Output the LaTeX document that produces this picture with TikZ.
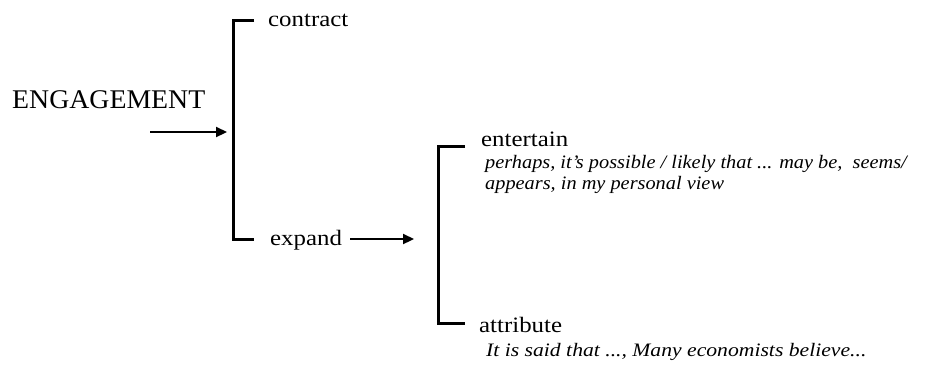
\documentclass[tikz,border=0pt]{standalone}
\usepackage{fontspec}
\setmainfont{Liberation Serif}
\usetikzlibrary{arrows.meta}
\newcommand{\hs}[2]{\scalebox{#1}[1]{#2}}
\begin{document}
\begin{tikzpicture}[x=1pt,y=-1pt,
  lbl/.style={anchor=base west,inner sep=0pt,font=\fontsize{22}{25}\selectfont},
  ex/.style={anchor=base west,inner sep=0pt,font=\fontsize{19}{22}\selectfont\itshape},
  brk/.style={line width=3pt},
  arr/.style={line width=2.2pt,-{Triangle[length=11pt,width=10pt]}}]
\useasboundingbox (0,0) rectangle (949,365);
\node[anchor=base west,inner sep=0pt,font=\fontsize{27}{30}\selectfont] (eng) at (12,108) {\hs{1.03}{ENGAGEMENT}};
\coordinate (a1s) at (150,132);
\coordinate (a1e) at (227,132);
\draw[arr] (a1s) -- (a1e);
\coordinate (b1t) at (254,20);
\coordinate (b1b) at (254,239);
\draw[brk] (b1t) -- (233,20) -- (233,239) -- (b1b);
\node[lbl] (contract) at (268,26) {\hs{1.13}{contract}};
\node[lbl] (expand) at (270,245) {\hs{1.13}{expand}};
\coordinate (a2s) at (350,239);
\coordinate (a2e) at (414,239);
\draw[arr] (a2s) -- (a2e);
\coordinate (b2t) at (465,146);
\coordinate (b2b) at (465,323);
\draw[brk] (b2t) -- (438,146) -- (438,323) -- (b2b);
\node[lbl] (entertain) at (481,146) {\hs{1.13}{entertain}};
\node[ex] (ent1) at (485,168) {\hs{1.07}{perhaps, it’s possible / likely that ... may be,\ \ seems/}};
\node[ex] (ent2) at (485,189) {\hs{1.07}{appears, in my personal view}};
\node[lbl] (attribute) at (479,332) {\hs{1.13}{attribute}};
\node[ex] (att1) at (486,356) {\hs{1.14}{It is said that ..., Many economists believe...}};
\end{tikzpicture}
\end{document}
